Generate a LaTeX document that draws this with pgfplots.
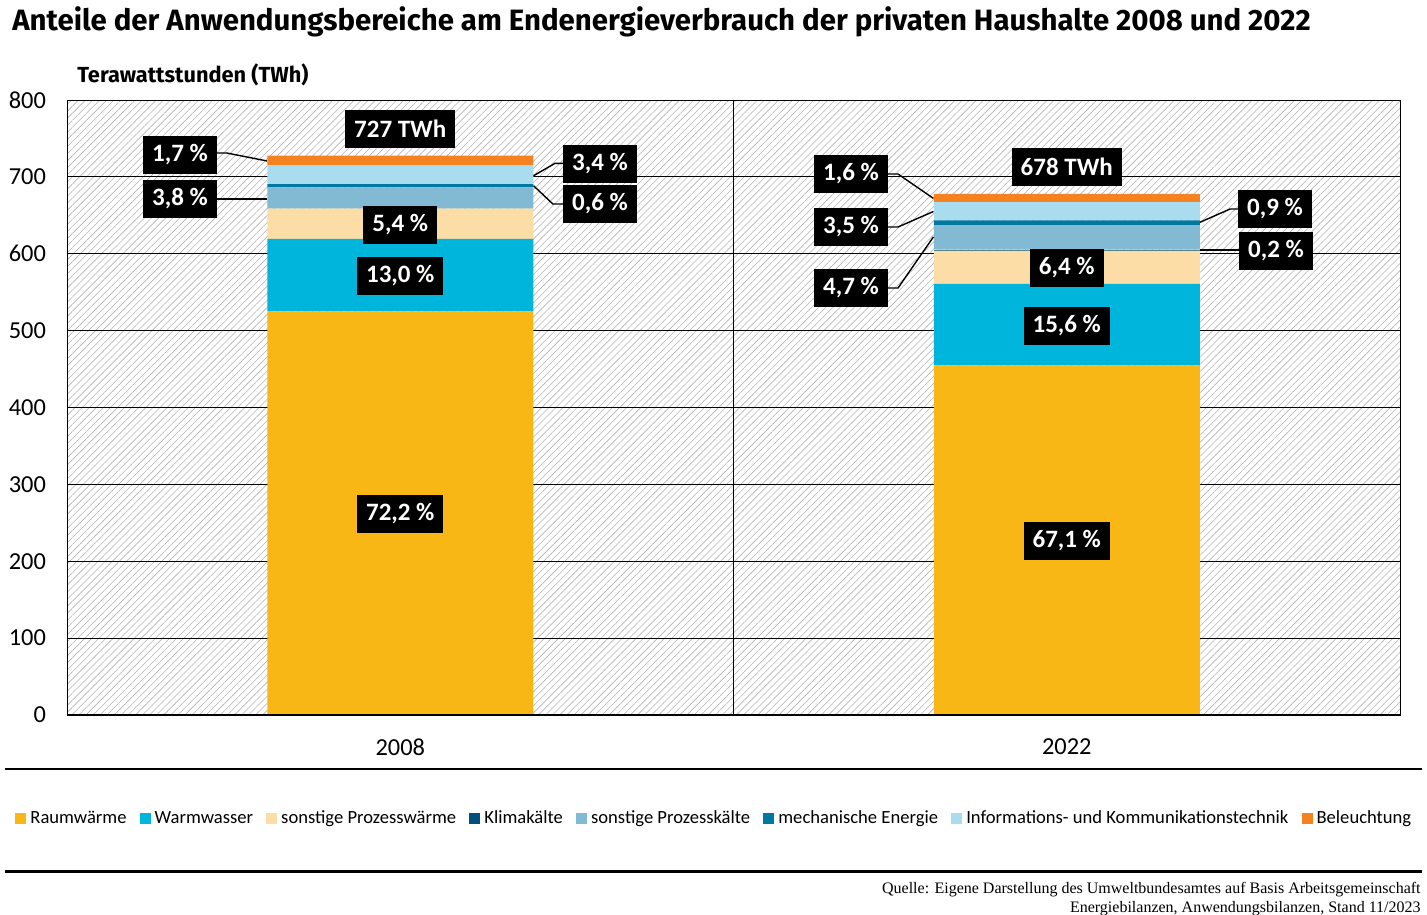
\documentclass[border=0pt]{standalone}
\usepackage{fontspec}
\setmainfont{Carlito}
\newfontfamily\titlefont{Fira Sans}
\newfontfamily\srcfont{Liberation Serif}
\usepackage{pgfplots}
\pgfplotsset{compat=1.18}
\usepackage{pgfplotstable}
\usetikzlibrary{patterns.meta}
\definecolor{cRW}{HTML}{F9B715}
\definecolor{cWW}{HTML}{00B5DB}
\definecolor{cPW}{HTML}{FDDDA6}
\definecolor{cKK}{HTML}{004F7D}
\definecolor{cPK}{HTML}{82BAD4}
\definecolor{cME}{HTML}{00789F}
\definecolor{cIKT}{HTML}{A8DCEE}
\definecolor{cBL}{HTML}{F58220}

\pgfplotstableread{
x RW WW PW KK PK ME IKT BL
0 524.9 94.5 39.3 0 27.6 4.4 24.7 12.4
1 454.9 105.8 43.4 1.4 31.9 6.1 23.7 10.8
}\data

\tikzset{
  lab/.style={fill=black, text=white, font=\bfseries\fontsize{12.5}{14}\selectfont, inner xsep=4.5pt, inner ysep=0pt, minimum height=19pt},
  lead/.style={black, line width=0.7pt}
}
\pgfplotsset{
  mybar/.style={fill=#1, draw=none, legend image code/.code={\fill[##1] (0pt,-2.75pt) rectangle (5.5pt,2.75pt);}}
}

\begin{document}
\begin{tikzpicture}
\useasboundingbox (0,0) rectangle (713.5pt,-457pt);
\node[anchor=base west, inner sep=0, font=\titlefont\bfseries\fontsize{14.7}{17}\selectfont] at (6pt,-15.5pt) {Anteile der Anwendungsbereiche am Endenergieverbrauch der privaten Haushalte 2008 und 2022};
\node[anchor=base west, inner sep=0, font=\titlefont\bfseries\fontsize{10.9}{12}\selectfont] at (38.5pt,-41.5pt) {Terawattstunden (TWh)};
\begin{axis}[
  at={(33.5pt,-357.5pt)}, anchor=south west,
  scale only axis, width=666.5pt, height=307.5pt,
  xmin=-0.5, xmax=1.5, ymin=0, ymax=800,
  ybar stacked, bar width=133pt,
  axis background/.style={pattern={Lines[angle=45,distance=2.5pt,line width=0.3pt]}, pattern color=black!30},
  axis line style={black, line width=0.5pt},
  xtick={0,1}, xticklabels={2008,2022},
  x tick style={draw=none},
  extra x ticks={-0.5,0.5,1.5}, extra x tick labels={},
  extra x tick style={grid=major, major grid style={black, line width=0.5pt}, tick style={draw=black, line width=0.9pt}, tick align=outside, major tick length=3.5pt},
  ytick={0,100,...,800},
  y tick style={draw=none},
  ymajorgrids, major grid style={black, line width=0.5pt},
  /pgf/number format/assume math mode=true,
  tick label style={font=\fontsize{12.2}{14}\selectfont},
  yticklabel style={xshift=-7pt},
  xticklabel style={yshift=-8.5pt},
  legend style={at={(-0.039,-0.169)}, anchor=west, draw=none, fill=none, inner sep=0pt,
    font=\fontsize{9.3}{10}\selectfont, /tikz/every even column/.append style={column sep=4.6pt}},
  legend columns=-1,
  clip=false,
]
\addplot[mybar=cRW] table[x=x,y=RW]{\data};
\addplot[mybar=cWW] table[x=x,y=WW]{\data};
\addplot[mybar=cPW] table[x=x,y=PW]{\data};
\addplot[mybar=cKK] table[x=x,y=KK]{\data};
\addplot[mybar=cPK] table[x=x,y=PK]{\data};
\addplot[mybar=cME] table[x=x,y=ME]{\data};
\addplot[mybar=cIKT] table[x=x,y=IKT]{\data};
\addplot[mybar=cBL] table[x=x,y=BL]{\data};
\legend{Raumwärme,Warmwasser,sonstige Prozesswärme,Klimakälte,sonstige Prozesskälte,mechanische Energie,Informations- und Kommunikationstechnik,Beleuchtung}
\coordinate (ax0) at (axis cs:-0.5,0);
\coordinate (ax1) at (axis cs:1.5,0);
% leader line points
\coordinate (lAa) at (axis cs:-0.3305,731);
\coordinate (lAb) at (axis cs:-0.26,731);
\coordinate (lAc) at (axis cs:-0.2,720.7);
\coordinate (lBa) at (axis cs:-0.3305,671.2);
\coordinate (lBc) at (axis cs:-0.2,671.2);
\coordinate (lCa) at (axis cs:0.2,701.5);
\coordinate (lCb) at (axis cs:0.232,717.5);
\coordinate (lCc) at (axis cs:0.2997,717.5);
\coordinate (lDa) at (axis cs:0.2,688.5);
\coordinate (lDb) at (axis cs:0.229,664.7);
\coordinate (lDc) at (axis cs:0.2997,664.7);
\coordinate (lEa) at (axis cs:0.6763,703.7);
\coordinate (lEb) at (axis cs:0.7468,703.7);
\coordinate (lEc) at (axis cs:0.8,672);
\coordinate (lFa) at (axis cs:0.6763,634.8);
\coordinate (lFb) at (axis cs:0.7468,634.8);
\coordinate (lFc) at (axis cs:0.8,655);
\coordinate (lGa) at (axis cs:0.6763,555.4);
\coordinate (lGb) at (axis cs:0.7468,555.4);
\coordinate (lGc) at (axis cs:0.8,622);
\coordinate (lHa) at (axis cs:1.2,641);
\coordinate (lHb) at (axis cs:1.245,658.2);
\coordinate (lHc) at (axis cs:1.3125,658.2);
\coordinate (lIa) at (axis cs:1.2,605);
\coordinate (lIc) at (axis cs:1.314,605);
% label positions
\coordinate (tA) at (axis cs:0,762);
\coordinate (tB) at (axis cs:-0.3305,728.5);
\coordinate (tC) at (axis cs:-0.3305,671.2);
\coordinate (tD) at (axis cs:0.2997,716.7);
\coordinate (tE) at (axis cs:0.2997,664.7);
\coordinate (tF) at (axis cs:0,637.4);
\coordinate (tG) at (axis cs:0,571.1);
\coordinate (tH) at (axis cs:0,261.5);
\coordinate (uA) at (axis cs:1,712.8);
\coordinate (uB) at (axis cs:0.6763,703.7);
\coordinate (uC) at (axis cs:0.6763,634.8);
\coordinate (uD) at (axis cs:0.6763,555.4);
\coordinate (uE) at (axis cs:1.3125,658.2);
\coordinate (uF) at (axis cs:1.3140,603.6);
\coordinate (uG) at (axis cs:1,581.5);
\coordinate (uH) at (axis cs:1,506);
\coordinate (uI) at (axis cs:1,226.3);
\end{axis}
\draw[black, line width=1.2pt] (ax0) -- (ax1);
\draw[lead] (lAa) -- (lAb) -- (lAc);
\draw[lead] (lBa) -- (lBc);
\draw[lead] (lCa) -- (lCb) -- (lCc);
\draw[lead] (lDa) -- (lDb) -- (lDc);
\draw[lead] (lEa) -- (lEb) -- (lEc);
\draw[lead] (lFa) -- (lFb) -- (lFc);
\draw[lead] (lGa) -- (lGb) -- (lGc);
\draw[lead] (lHa) -- (lHb) -- (lHc);
\draw[lead] (lIa) -- (lIc);
\node[lab] at (tA) {727 TWh};
\node[lab] at (tB) {1,7 \%};
\node[lab] at (tC) {3,8 \%};
\node[lab] at (tD) {3,4 \%};
\node[lab] at (tE) {0,6 \%};
\node[lab] at (tF) {5,4 \%};
\node[lab] at (tG) {13,0 \%};
\node[lab] at (tH) {72,2 \%};
\node[lab] at (uA) {678 TWh};
\node[lab] at (uB) {1,6 \%};
\node[lab] at (uC) {3,5 \%};
\node[lab] at (uD) {4,7 \%};
\node[lab] at (uE) {0,9 \%};
\node[lab] at (uF) {0,2 \%};
\node[lab] at (uG) {6,4 \%};
\node[lab] at (uH) {15,6 \%};
\node[lab] at (uI) {67,1 \%};
\draw[black, line width=0.7pt] (2.5pt,-384.5pt) -- (711pt,-384.5pt);
\draw[black, line width=1.5pt] (2.5pt,-435.5pt) -- (711pt,-435.5pt);
\node[anchor=base east, inner sep=0, font=\srcfont\fontsize{8}{9}\selectfont] at (710.5pt,-446.5pt) {Quelle: Eigene Darstellung des Umweltbundesamtes auf Basis Arbeitsgemeinschaft};
\node[anchor=base east, inner sep=0, font=\srcfont\fontsize{8}{9}\selectfont] at (710.5pt,-456pt) {Energiebilanzen, Anwendungsbilanzen, Stand 11/2023};
\end{tikzpicture}
\end{document}
